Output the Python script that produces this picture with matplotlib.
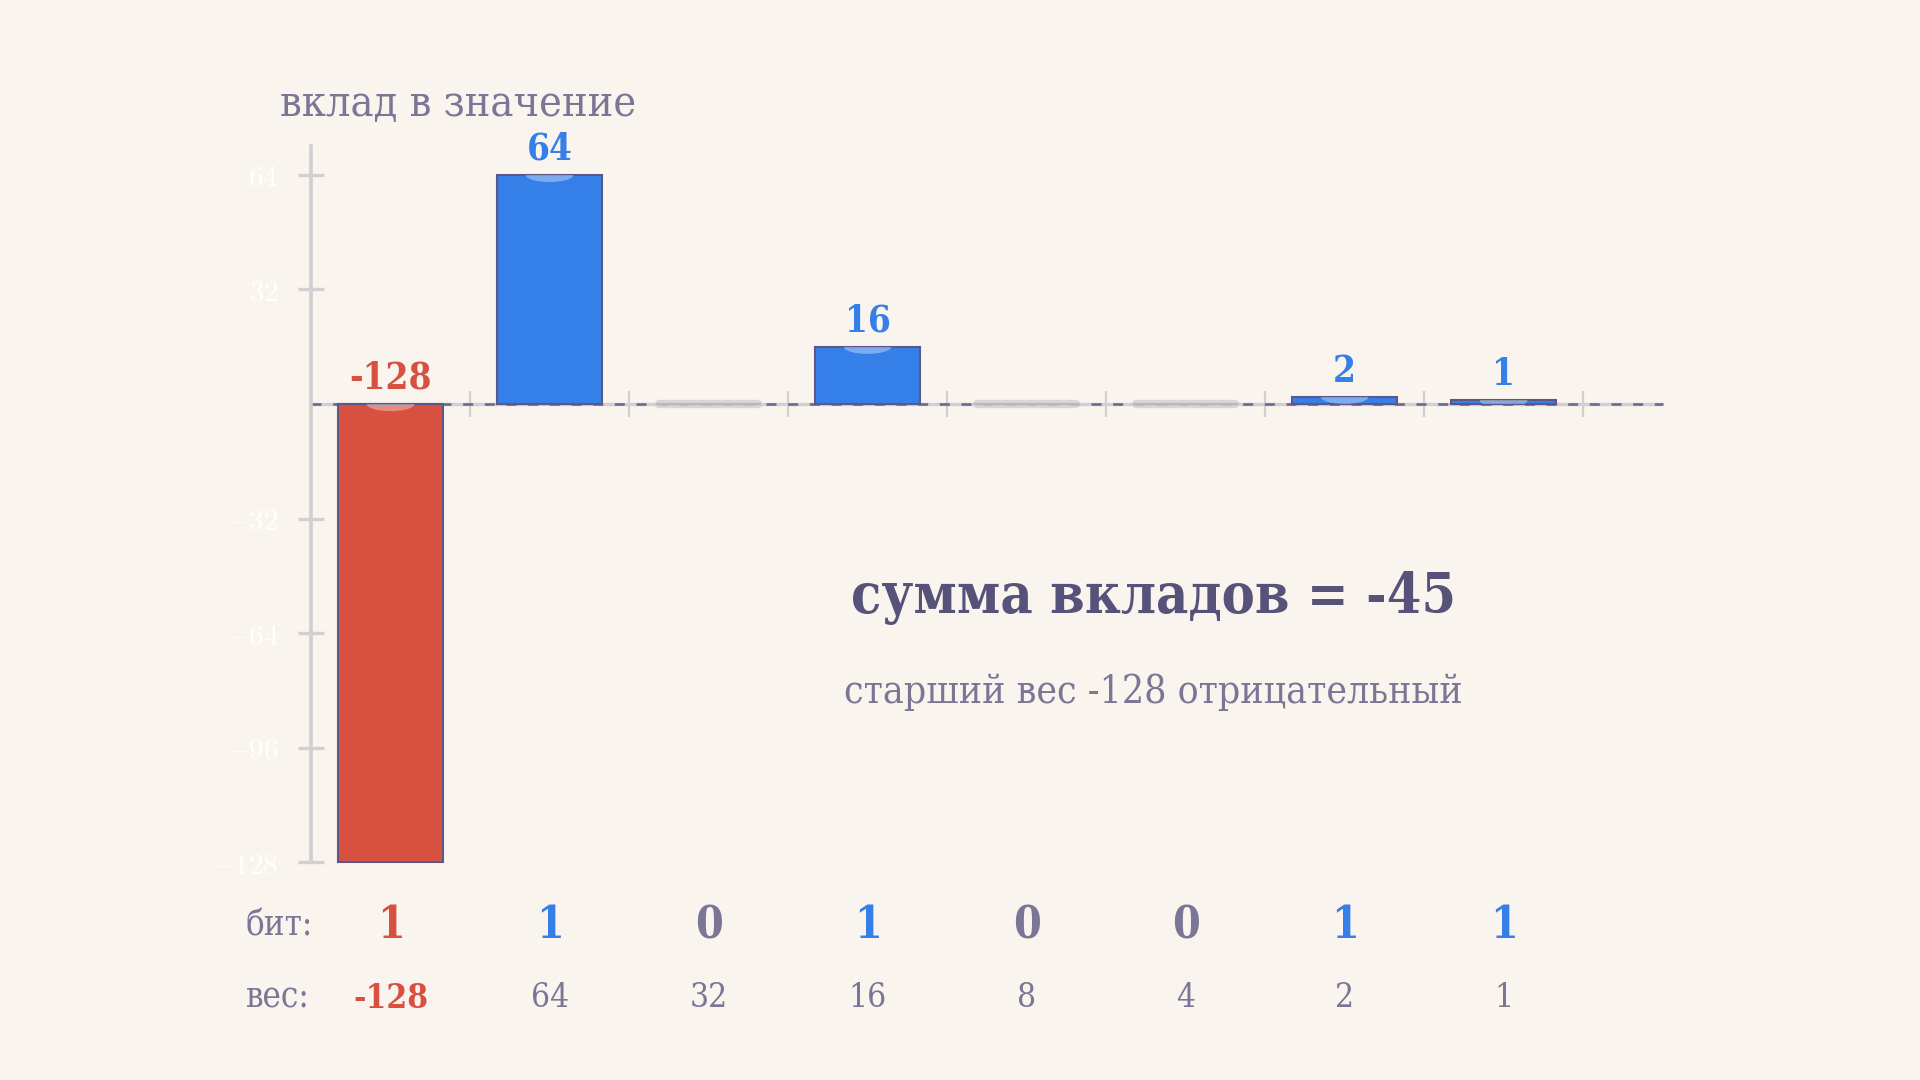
import matplotlib
matplotlib.use("Agg")
import matplotlib.pyplot as plt
import matplotlib.transforms as mtransforms
from matplotlib.patches import Ellipse
import numpy as np

# data
bits = [1, 1, 0, 1, 0, 0, 1, 1]
weights = [-128, 64, 32, 16, 8, 4, 2, 1]
contrib = [b * w for b, w in zip(bits, weights)]
y_ticks = [64, 32, -32, -64, -96, -128]
total = sum(contrib)

# colours
BG = "#FAF4EE"
RED = "#D85140"
BLUE = "#3580E8"
INK = "#57527A"
GRAY = "#7B7696"
LIGHT = "#D2CED2"
EDGE = "#5C5785"
DASH = "#6E6992"

plt.rcParams["font.family"] = ["DejaVu Serif"]
plt.rcParams["font.stretch"] = "condensed"
plt.rcParams["mathtext.fontset"] = "cm"
plt.rcParams["lines.scale_dashes"] = False

W, H = 1920, 1080
fig = plt.figure(figsize=(W / 100, H / 100), dpi=100, facecolor=BG)

# layout in pixels -> axes rectangle
x0_px, dx_px = 390.6, 159.0
y0_px, dy_px = 404.0, 3.58
xlim = (-0.5, 8.2)
ylim = (-140, 80)
left = (x0_px + dx_px * xlim[0]) / W
right = (x0_px + dx_px * xlim[1]) / W
top = 1 - (y0_px - dy_px * ylim[1]) / H
bottom = 1 - (y0_px - dy_px * ylim[0]) / H
ax = fig.add_axes([left, bottom, right - left, top - bottom])
ax.set_facecolor("none")
ax.set_xlim(*xlim)
ax.set_ylim(*ylim)

xs = np.arange(len(bits))
bw = 0.66

# zero line: light solid under a dark dashed one
ax.plot([-0.5, 8.0], [0, 0], color=LIGHT, lw=2.4, zorder=1, solid_capstyle="butt")
ax.plot([-0.5, 8.0], [0, 0], color=DASH, lw=1.9, zorder=2, dashes=(7.2, 8.4))

bar_colors = [RED if c < 0 else BLUE for c in contrib]
bars = ax.bar(xs, contrib, width=bw, color=bar_colors, edgecolor=EDGE,
              linewidth=1.5, zorder=3)

for x, c, b, rect in zip(xs, contrib, bits, bars):
    if b == 0:
        ax.plot([x - bw / 2 + 0.02, x + bw / 2 - 0.02], [0, 0], color=LIGHT,
                lw=6, alpha=0.8, solid_capstyle="round", zorder=4)
        continue
    # soft highlight at the top edge of each bar
    ytop = max(c, 0)
    glow = Ellipse((x, ytop), 0.3, 4.0, color="white", alpha=0.35, lw=0, zorder=4)
    ax.add_patch(glow)
    glow.set_clip_path(rect)
    ax.annotate(str(c), (x, ytop), xytext=(0, 11), textcoords="offset points",
                ha="center", va="baseline", fontsize=26.5, fontweight="bold",
                color=RED if c < 0 else BLUE, zorder=5)

# axes styling
for s in ("top", "right"):
    ax.spines[s].set_visible(False)
ax.spines["left"].set_color(LIGHT)
ax.spines["left"].set_linewidth(2.6)
ax.spines["left"].set_bounds(-128, 72)
ax.spines["bottom"].set_position(("data", 0))
ax.spines["bottom"].set_color("none")

ax.set_xticks(xs + 0.5)
ax.set_xticklabels([])
ax.tick_params(axis="x", direction="inout", length=19, width=1.6, color=LIGHT)
ax.set_yticks(y_ticks)
ax.set_yticklabels([f"${v}$" for v in y_ticks])
ax.tick_params(axis="y", direction="inout", length=19, width=2.4, color=LIGHT,
               labelcolor="white", labelsize=21, pad=14)

# texts
fig.text(280 / W, 1 - 104 / H, "вклад в значение", fontsize=31, color=GRAY,
         ha="left", va="center")
ax.text(4.8, -54, f"сумма вкладов = {total}", fontsize=40, fontweight="bold",
        color=INK, ha="center", va="center")
ax.text(4.8, -80.5, "старший вес -128 отрицательный", fontsize=28, color=GRAY,
        ha="center", va="center")

row = mtransforms.blended_transform_factory(ax.transData, fig.transFigure)
y_bits = 1 - 926 / H
y_w = 1 - 998 / H
ax.text(-0.91, y_bits, "бит:", transform=row, fontsize=25, color=GRAY,
        ha="left", va="center")
ax.text(-0.91, y_w, "вес:", transform=row, fontsize=25, color=GRAY,
        ha="left", va="center")
for i, (b, w) in enumerate(zip(bits, weights)):
    if b == 0:
        col = GRAY
    else:
        col = RED if w < 0 else BLUE
    ax.text(i, y_bits, str(b), transform=row, fontsize=32, fontweight="bold",
            color=col, ha="center", va="center")
    ax.text(i, y_w, str(w), transform=row, fontsize=24,
            fontweight="bold" if w < 0 else "normal",
            color=RED if w < 0 else GRAY, ha="center", va="center")

fig.savefig("out.png", dpi=100, facecolor=BG)
